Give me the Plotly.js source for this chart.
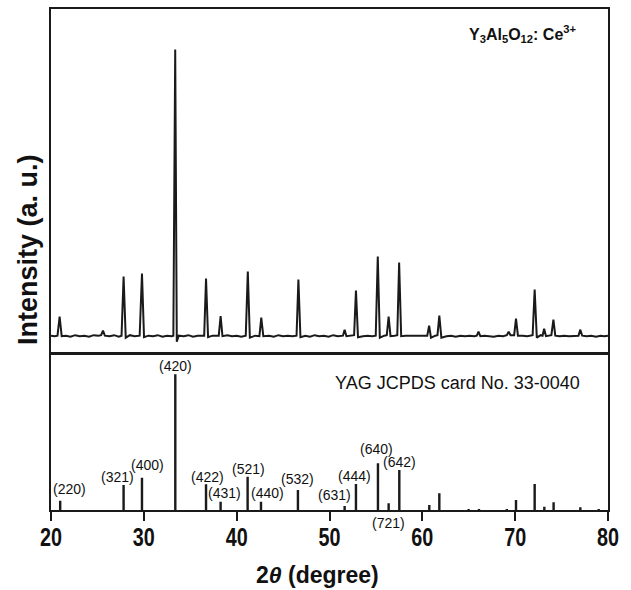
<!DOCTYPE html>
<html>
<head>
<meta charset="utf-8">
<script src="https://cdn.plot.ly/plotly-3.0.1.min.js"></script>
<style>html,body{margin:0;padding:0;background:#fff;}#chart{width:631px;height:590px;}</style>
</head>
<body>
<div id="chart"></div>
<script>
// ---- Measured XRD profile of Y3Al5O12:Ce3+ (2theta in degrees, intensity a.u.) ----
var profile_2theta = [
  20.0, 20.4, 20.7, 20.93, 21.15, 21.6,
  22.1, 22.6, 23.1, 23.6, 24.1, 24.6, 25.1,
  25.4, 25.6, 25.8, 26.3, 26.8, 27.3, 27.6,
  27.82, 28.05, 28.5, 29.0, 29.55,
  29.8, 30.02, 30.5, 31.0, 31.5, 32.0, 32.5, 33.0, 33.18,
  33.38, 33.55, 33.75, 34.3, 34.8, 35.3, 35.8, 36.3, 36.5,
  36.7, 36.92, 37.4, 37.9, 38.07,
  38.27, 38.47, 39.0, 39.5, 40.0, 40.5, 40.98,
  41.2, 41.42, 42.0, 42.45,
  42.65, 42.87, 43.5, 44.0, 44.5, 45.0, 45.5, 46.0, 46.45,
  46.65, 46.87, 47.4, 47.9, 48.4, 48.9, 49.4, 49.9, 50.4, 50.9, 51.45,
  51.63, 51.82, 52.3, 52.65,
  52.85, 53.07, 53.6, 54.1, 54.6, 54.98,
  55.2, 55.42, 55.9, 56.17,
  56.37, 56.57, 57.0, 57.3,
  57.5, 57.72, 58.2, 58.7, 59.2, 59.7, 60.2, 60.53,
  60.73, 60.93, 61.4, 61.63,
  61.83, 62.05, 62.6, 63.1, 63.6, 64.1, 64.6, 65.1, 65.6, 65.87,
  66.05, 66.25, 66.7, 67.2, 67.7, 68.2, 68.7, 69.1, 69.3, 69.5, 69.89,
  70.09, 70.3, 70.8, 71.3, 71.88,
  72.1, 72.33, 72.75, 72.95,
  73.12, 73.32, 73.9,
  74.12, 74.32, 74.8, 75.3, 75.8, 76.3, 76.82,
  77.02, 77.22, 77.7, 78.2, 78.7, 79.2, 79.6, 80.0
];
var profile_intensity = [
  100, 95, 100, 290, 95, 100,
  90, 105, 95, 100, 90, 105, 100,
  105, 150, 100, 95, 105, 90, 100,
  690, 80, 105, 95, 100,
  720, 85, 100, 95, 105, 90, 100, 95, 100,
  2960, 40, 100, 95, 105, 90, 100, 95, 100,
  670, 85, 100, 95, 100,
  295, 95, 105, 95, 100, 90, 100,
  740, 80, 100, 95,
  280, 95, 100, 90, 105, 95, 100, 95, 100,
  660, 85, 100, 90, 105, 95, 100, 90, 105, 95, 100,
  160, 95, 100, 105,
  550, 85, 95, 100, 95, 100,
  890, 80, 100, 105,
  290, 95, 100, 105,
  830, 95, 100, 100, 95, 100, 95, 100,
  200, 80, 100, 105,
  300, 80, 95, 100, 90, 100, 95, 100, 95, 100,
  140, 95, 100, 95, 90, 100, 95, 105, 140, 105, 105,
  270, 100, 100, 95, 105,
  560, 80, 105, 100,
  170, 95, 105,
  260, 100, 95, 100, 95, 95, 100,
  160, 100, 95, 100, 90, 100, 95, 100
];

// ---- Reference pattern: YAG JCPDS card No. 33-0040 ----
var card_2theta = [20.99, 27.82, 29.8, 33.39, 36.7, 38.27, 41.18, 42.62, 46.6, 51.63, 52.85,
                   55.22, 56.37, 57.52, 60.75, 61.83, 64.99, 66.1, 69.1, 70.09, 72.1, 73.14,
                   74.14, 77.02, 79.0];
var card_intensity = [6.9, 18.4, 23.8, 100, 18.9, 6.1, 24.5, 6.1, 14.7, 2.9, 19.2,
                      34.4, 4.9, 29.5, 3.7, 12.3, 0.8, 0.8, 0.8, 7.4, 19.2, 2.4,
                      5.7, 2.0, 0.8];

// Miller indices labelling the card lines (label text, 2theta of the labelled line)
var hkl_labels = ["(220)", "(321)", "(400)", "(420)", "(422)", "(431)", "(521)", "(440)",
                  "(532)", "(631)", "(444)", "(640)", "(642)", "(721)"];
var hkl_2theta = [20.99, 27.82, 29.8, 33.39, 36.7, 38.27, 41.18, 42.62,
                  46.6, 51.63, 52.85, 55.22, 57.52, 56.37];

var tick_values = [20, 30, 40, 50, 60, 70, 80];
var tick_labels = ["20", "30", "40", "50", "60", "70", "80"];

// ---- styling (label offsets in px relative to the top of the labelled line) ----
var labelOffsets = [
  [9, 11.4], [-6.4, 7.7], [5.6, 12.7], [0, 8.3], [1, 7.6], [4, 9], [0.6, 7.7], [7, 9],
  [0, 11], [-10, 11], [-1, 8.3], [-1.6, 14.3], [0.4, 7.7], [0, -12.7]
];
var belowAxis = [false, false, false, false, false, false, false, false,
                 false, false, false, false, false, true];

var sans = "Liberation Sans, Arial, sans-serif";
var ink = "#1a1a1a";

var traces = [
  {
    type: "scatter", mode: "lines",
    x: profile_2theta, y: profile_intensity,
    xaxis: "x2", yaxis: "y2",
    line: {color: ink, width: 2},
    hoverinfo: "skip", showlegend: false
  },
  {
    type: "bar",
    x: card_2theta, y: card_intensity, base: 0,
    width: card_2theta.map(function(){return 0.26;}),
    xaxis: "x", yaxis: "y",
    marker: {color: ink, line: {width: 0}},
    hoverinfo: "skip", showlegend: false
  }
];

var annotations = [];
hkl_labels.forEach(function(t, i) {
  var xv = hkl_2theta[i];
  var idx = card_2theta.indexOf(xv);
  var yv = belowAxis[i] ? 0 : card_intensity[idx];
  annotations.push({
    xref: "x", yref: "y", x: xv, y: yv, text: t, showarrow: false,
    xanchor: "center", yanchor: "middle",
    xshift: labelOffsets[i][0], yshift: labelOffsets[i][1],
    font: {family: sans, size: 14, color: "#111"}
  });
});
annotations.push({
  xref: "paper", yref: "paper", x: 0.7307, y: 0.2529,
  text: "YAG JCPDS card No. 33-0040", showarrow: false,
  xanchor: "center", yanchor: "middle",
  font: {family: sans, size: 18, color: "#111"}
});
annotations.push({
  xref: "paper", yref: "paper", x: 0.8465, y: 0.951,
  text: "Y<sub>3</sub>Al<sub>5</sub>O<sub>12</sub>: Ce<sup>3+</sup>", showarrow: false,
  xanchor: "center", yanchor: "middle",
  font: {family: sans, size: 16, color: "#111", weight: "bold"}
});
annotations.push({
  xref: "paper", yref: "paper", x: -0.0413, y: 0.521,
  text: "Intensity (a. u.)", showarrow: false, textangle: -90,
  xanchor: "center", yanchor: "middle",
  font: {family: sans, size: 27, color: "#111", weight: "bold"}
});
annotations.push({
  xref: "paper", yref: "paper", x: 0.479, y: -0.1297,
  text: "2<i>θ</i> (degree)", showarrow: false,
  xanchor: "center", yanchor: "middle",
  font: {family: sans, size: 23, color: "#111", weight: "bold"}
});

var split = 0.3148;
var layout = {
  width: 631, height: 590,
  margin: {l: 51, r: 23, t: 9, b: 80, pad: 0},
  paper_bgcolor: "#fff", plot_bgcolor: "#fff",
  showlegend: false,
  xaxis: {
    domain: [0, 1], anchor: "y", range: [20, 80],
    tickmode: "array", tickvals: tick_values, ticktext: tick_labels,
    ticks: "outside", ticklen: 9, tickwidth: 2, tickcolor: ink,
    showline: true, linewidth: 2, linecolor: ink, mirror: false,
    showgrid: false, zeroline: false, ticklabelstandoff: -5,
    tickfont: {family: sans, size: 25, color: "#111", weight: "bold"}
  },
  yaxis: {
    domain: [0, split], anchor: "x", range: [0, 116.2],
    showline: true, linewidth: 2, linecolor: ink, mirror: true,
    ticks: "", showticklabels: false, showgrid: false, zeroline: false
  },
  xaxis2: {
    domain: [0, 1], anchor: "y2", matches: "x", range: [20, 80],
    showline: true, linewidth: 2.5, linecolor: ink, mirror: true,
    ticks: "", showticklabels: false, showgrid: false, zeroline: false
  },
  yaxis2: {
    domain: [split, 1], anchor: "x2", range: [-66, 3364],
    showline: true, linewidth: 2, linecolor: ink, mirror: true,
    ticks: "", showticklabels: false, showgrid: false, zeroline: false
  },
  annotations: annotations
};

Plotly.newPlot("chart", traces, layout, {staticPlot: true, displayModeBar: false}).then(function(gd) {
  // condense the bold tick numerals (reference uses a narrow bold face)
  gd.querySelectorAll(".xtick text").forEach(function(t) {
    t.setAttribute("textLength", "22");
    t.setAttribute("lengthAdjust", "spacingAndGlyphs");
  });
});
</script>
</body>
</html>
